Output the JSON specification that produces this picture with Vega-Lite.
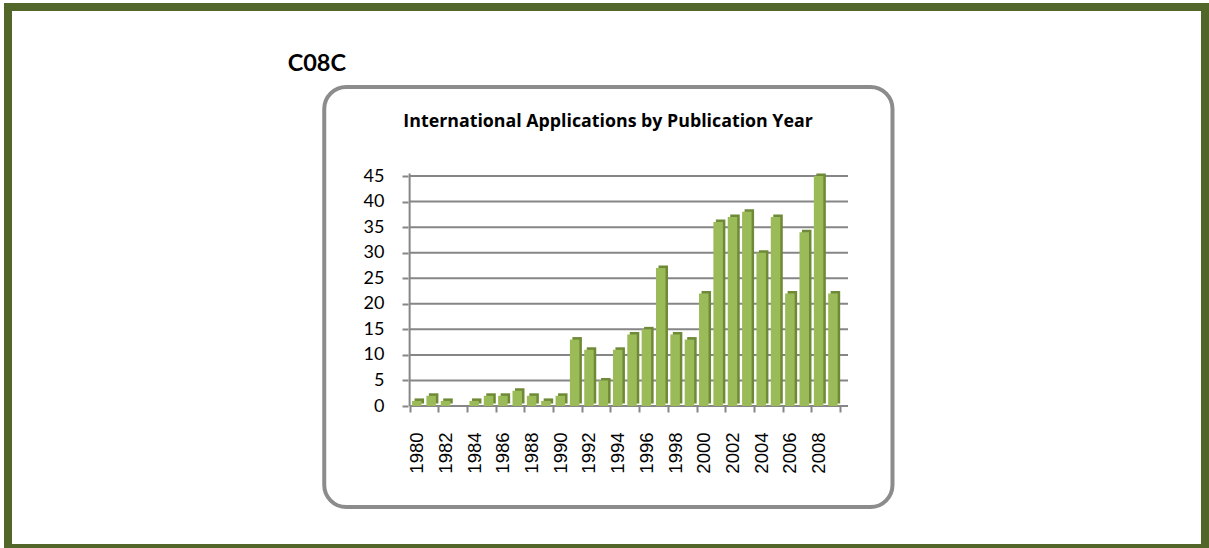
{
  "$schema": "https://vega.github.io/schema/vega-lite/v6.json",
  "width": 1197,
  "height": 541,
  "autosize": "none",
  "padding": {"left": 8, "top": 7, "right": 4, "bottom": 0},
  "background": "white",
  "config": {
    "view": {"stroke": "#536629", "strokeWidth": 8},
    "font": "Lato"
  },
  "datasets": {
    "apps": [
      {"year": 1980, "count": 1}, {"year": 1981, "count": 2}, {"year": 1982, "count": 1},
      {"year": 1983, "count": 0}, {"year": 1984, "count": 1}, {"year": 1985, "count": 2},
      {"year": 1986, "count": 2}, {"year": 1987, "count": 3}, {"year": 1988, "count": 2},
      {"year": 1989, "count": 1}, {"year": 1990, "count": 2}, {"year": 1991, "count": 13},
      {"year": 1992, "count": 11}, {"year": 1993, "count": 5}, {"year": 1994, "count": 11},
      {"year": 1995, "count": 14}, {"year": 1996, "count": 15}, {"year": 1997, "count": 27},
      {"year": 1998, "count": 14}, {"year": 1999, "count": 13}, {"year": 2000, "count": 22},
      {"year": 2001, "count": 36}, {"year": 2002, "count": 37}, {"year": 2003, "count": 38},
      {"year": 2004, "count": 30}, {"year": 2005, "count": 37}, {"year": 2006, "count": 22},
      {"year": 2007, "count": 34}, {"year": 2008, "count": 45}, {"year": 2009, "count": 22}
    ],
    "grid": [
      {"v": 0}, {"v": 5}, {"v": 10}, {"v": 15}, {"v": 20},
      {"v": 25}, {"v": 30}, {"v": 35}, {"v": 40}, {"v": 45}
    ]
  },
  "layer": [
    {
      "data": {"values": [{}]},
      "mark": {"type": "rect", "fill": "#E6E6E6", "cornerRadius": 22, "xOffset": 1, "yOffset": 2},
      "encoding": {
        "x": {"datum": 1973.55, "type": "quantitative"},
        "x2": {"datum": 2013.15},
        "y": {"datum": 62.42, "type": "quantitative"},
        "y2": {"datum": -19.76}
      }
    },
    {
      "data": {"values": [{}]},
      "mark": {"type": "rect", "fill": "white", "stroke": "#8C8C8C", "strokeWidth": 4, "cornerRadius": 22},
      "encoding": {
        "x": {"datum": 1973.55, "type": "quantitative"},
        "x2": {"datum": 2013.15},
        "y": {"datum": 62.42, "type": "quantitative"},
        "y2": {"datum": -19.76}
      }
    },
    {
      "data": {"name": "grid"},
      "mark": {"type": "rule", "color": "#868686", "strokeWidth": 2},
      "encoding": {
        "x": {"datum": 1979.5, "type": "quantitative"},
        "x2": {"datum": 2010.05},
        "y": {"field": "v", "type": "quantitative"}
      }
    },
    {
      "data": {"values": [{}]},
      "mark": {"type": "rule", "color": "#868686", "strokeWidth": 2},
      "encoding": {
        "x": {"datum": 1979.5, "type": "quantitative"},
        "y": {"datum": 0, "type": "quantitative"},
        "y2": {"datum": 45.5}
      }
    },
    {
      "data": {"name": "apps"},
      "mark": {"type": "bar", "width": 9.5, "color": "#6F8A36", "xOffset": 2.5, "yOffset": -2.5},
      "encoding": {
        "x": {"field": "year", "type": "quantitative"},
        "y": {"field": "count", "type": "quantitative"}
      }
    },
    {
      "data": {"name": "apps"},
      "mark": {"type": "bar", "width": 9.5, "color": "#9BBB59"},
      "encoding": {
        "x": {"field": "year", "type": "quantitative",
          "scale": {"domain": [1951.86, 2034.58], "nice": false, "zero": false},
          "axis": {"values": [1980, 1981, 1982, 1983, 1984, 1985, 1986, 1987, 1988, 1989, 1990, 1991, 1992, 1993, 1994, 1995, 1996, 1997, 1998, 1999, 2000, 2001, 2002, 2003, 2004, 2005, 2006, 2007, 2008, 2009, 2010],
            "offset": -142, "zindex": 2, "domain": false, "grid": false, "tickSize": 6, "tickColor": "#868686", "tickWidth": 2,
            "tickOffset": -7.235, "labelOffset": 7.235, "labelAngle": -90, "labelPadding": 20,
            "labelFont": "Liberation Sans", "labelFontSize": 18.5, "labelColor": "black",
            "labelExpr": "datum.value % 2 == 0 && datum.value < 2010 ? datum.value : ''",
            "labelOverlap": false, "labelBound": false, "labelFlush": false, "title": null}},
        "y": {"field": "count", "type": "quantitative",
          "scale": {"domain": [-27.78, 78.07], "nice": false, "zero": false},
          "axis": {"values": [0, 5, 10, 15, 20, 25, 30, 35, 40, 45], "offset": -400, "zindex": 2, "domain": false, "grid": false,
            "tickSize": 6, "tickColor": "#868686", "tickWidth": 2, "labelPadding": 18, "labelFontSize": 18,
            "labelFont": "Lato", "labelColor": "black", "labelFlush": false, "labelOverlap": false, "title": null}}
      }
    },
    {
      "data": {"values": [{"label": "C08C"}]},
      "mark": {"type": "text", "font": "Lato", "fontWeight": "bold", "fontSize": 23.5, "align": "left", "baseline": "alphabetic", "color": "black"},
      "encoding": {
        "x": {"datum": 1971.0, "type": "quantitative"},
        "y": {"datum": 65.55, "type": "quantitative"},
        "text": {"field": "label"}
      }
    },
    {
      "data": {"values": [{"label": "International Applications by Publication Year"}]},
      "mark": {"type": "text", "font": "Open Sans", "fontWeight": "bold", "fontSize": 17.8, "align": "center", "baseline": "alphabetic", "color": "black"},
      "encoding": {
        "x": {"datum": 1993.33, "type": "quantitative"},
        "y": {"datum": 54.6, "type": "quantitative"},
        "text": {"field": "label"}
      }
    }
  ]
}
